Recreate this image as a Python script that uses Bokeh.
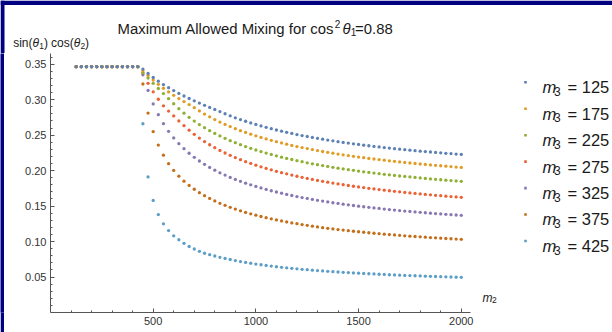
from bokeh.plotting import figure
from bokeh.models import Range1d, FixedTicker, PrintfTickFormatter
from bokeh.layouts import row, column
from bokeh.embed import file_html
from bokeh.resources import INLINE
from bokeh.core.properties import value

# ---------------- data ----------------
m2 = [125, 150, 175, 200, 225, 250, 275, 300, 325, 350, 375, 400, 425,
      450, 475, 500, 525, 550, 575, 600, 625, 650, 675,
      700, 725, 750, 775, 800, 825, 850, 875, 900, 925,
      950, 975, 1000, 1025, 1050, 1075, 1100, 1125, 1150, 1175,
      1200, 1225, 1250, 1275, 1300, 1325, 1350, 1375, 1400, 1425,
      1450, 1475, 1500, 1525, 1550, 1575, 1600, 1625, 1650, 1675,
      1700, 1725, 1750, 1775, 1800, 1825, 1850, 1875, 1900, 1925,
      1950, 1975, 2000]

flat = [0.3464, 0.3464, 0.3464, 0.3464, 0.3464, 0.3464, 0.3464,
        0.3464, 0.3464, 0.3464, 0.3464, 0.3464, 0.3464]

m3_values = [125, 175, 225, 275, 325, 375, 425]

mix_125 = flat + [
    0.3430, 0.3368, 0.3312, 0.3260, 0.3212, 0.3168, 0.3127, 0.3088, 0.3051, 0.3016,
    0.2983, 0.2951, 0.2920, 0.2890, 0.2861, 0.2831, 0.2801, 0.2772, 0.2744, 0.2719,
    0.2695, 0.2671, 0.2650, 0.2629, 0.2609, 0.2590, 0.2572, 0.2555, 0.2539, 0.2523,
    0.2508, 0.2494, 0.2480, 0.2467, 0.2454, 0.2442, 0.2430, 0.2419, 0.2408, 0.2397,
    0.2387, 0.2377, 0.2368, 0.2358, 0.2350, 0.2341, 0.2333, 0.2325, 0.2317, 0.2309,
    0.2302, 0.2295, 0.2288, 0.2281, 0.2274, 0.2268, 0.2262, 0.2256, 0.2250, 0.2244,
    0.2239, 0.2233, 0.2228]

mix_175 = flat + [
    0.3410, 0.3340, 0.3275, 0.3215, 0.3160, 0.3108, 0.3060, 0.3015, 0.2972, 0.2930,
    0.2886, 0.2841, 0.2797, 0.2757, 0.2719, 0.2684, 0.2651, 0.2620, 0.2591, 0.2563,
    0.2538, 0.2513, 0.2490, 0.2467, 0.2446, 0.2426, 0.2407, 0.2389, 0.2372, 0.2355,
    0.2339, 0.2324, 0.2310, 0.2296, 0.2282, 0.2269, 0.2257, 0.2245, 0.2233, 0.2222,
    0.2212, 0.2201, 0.2191, 0.2182, 0.2172, 0.2163, 0.2155, 0.2146, 0.2138, 0.2130,
    0.2122, 0.2115, 0.2107, 0.2100, 0.2093, 0.2087, 0.2080, 0.2074, 0.2068, 0.2062,
    0.2056, 0.2050, 0.2045]

mix_225 = flat + [
    0.3380, 0.3305, 0.3230, 0.3157, 0.3085, 0.3013, 0.2942, 0.2872, 0.2809, 0.2751,
    0.2698, 0.2649, 0.2604, 0.2562, 0.2524, 0.2488, 0.2454, 0.2422, 0.2393, 0.2365,
    0.2338, 0.2314, 0.2290, 0.2268, 0.2247, 0.2227, 0.2208, 0.2189, 0.2172, 0.2156,
    0.2140, 0.2125, 0.2110, 0.2096, 0.2083, 0.2070, 0.2058, 0.2046, 0.2034, 0.2023,
    0.2013, 0.2003, 0.1993, 0.1983, 0.1974, 0.1965, 0.1956, 0.1948, 0.1940, 0.1932,
    0.1924, 0.1917, 0.1910, 0.1903, 0.1896, 0.1890, 0.1883, 0.1877, 0.1871, 0.1865,
    0.1859, 0.1854, 0.1848]

mix_275 = flat + [
    0.3375, 0.3230, 0.3110, 0.3005, 0.2913, 0.2838, 0.2770, 0.2700, 0.2633, 0.2569,
    0.2511, 0.2458, 0.2409, 0.2364, 0.2323, 0.2284, 0.2248, 0.2215, 0.2183, 0.2154,
    0.2126, 0.2101, 0.2076, 0.2053, 0.2031, 0.2010, 0.1990, 0.1971, 0.1954, 0.1936,
    0.1920, 0.1905, 0.1890, 0.1875, 0.1861, 0.1848, 0.1836, 0.1824, 0.1812, 0.1801,
    0.1790, 0.1779, 0.1769, 0.1760, 0.1750, 0.1741, 0.1732, 0.1724, 0.1716, 0.1708,
    0.1700, 0.1692, 0.1685, 0.1678, 0.1671, 0.1664, 0.1658, 0.1652, 0.1646, 0.1640,
    0.1634, 0.1628, 0.1623]

mix_325 = flat + [
    0.3350, 0.3130, 0.2940, 0.2788, 0.2661, 0.2553, 0.2460, 0.2379, 0.2308, 0.2244,
    0.2187, 0.2135, 0.2088, 0.2045, 0.2006, 0.1969, 0.1936, 0.1904, 0.1875, 0.1848,
    0.1823, 0.1799, 0.1776, 0.1755, 0.1735, 0.1716, 0.1698, 0.1681, 0.1664, 0.1649,
    0.1634, 0.1620, 0.1607, 0.1594, 0.1581, 0.1570, 0.1558, 0.1547, 0.1537, 0.1527,
    0.1517, 0.1508, 0.1499, 0.1490, 0.1482, 0.1474, 0.1466, 0.1458, 0.1451, 0.1444,
    0.1437, 0.1430, 0.1424, 0.1418, 0.1412, 0.1406, 0.1400, 0.1394, 0.1389, 0.1384,
    0.1379, 0.1374, 0.1369]

mix_375 = flat + [
    0.3220, 0.2810, 0.2550, 0.2360, 0.2217, 0.2097, 0.2002, 0.1921, 0.1851, 0.1791,
    0.1737, 0.1689, 0.1646, 0.1607, 0.1572, 0.1539, 0.1510, 0.1482, 0.1457, 0.1433,
    0.1411, 0.1390, 0.1371, 0.1353, 0.1336, 0.1320, 0.1304, 0.1290, 0.1276, 0.1263,
    0.1251, 0.1239, 0.1228, 0.1216, 0.1206, 0.1196, 0.1187, 0.1178, 0.1169, 0.1161,
    0.1153, 0.1145, 0.1138, 0.1131, 0.1124, 0.1117, 0.1111, 0.1104, 0.1098, 0.1093,
    0.1087, 0.1081, 0.1076, 0.1071, 0.1066, 0.1061, 0.1056, 0.1052, 0.1047, 0.1043,
    0.1039, 0.1035, 0.1031]

mix_425 = flat + [
    0.2660, 0.1910, 0.1580, 0.1380, 0.1250, 0.1155, 0.1080, 0.1025, 0.0975, 0.0930,
    0.0895, 0.0862, 0.0835, 0.0815, 0.0796, 0.0778, 0.0762, 0.0747, 0.0732, 0.0718,
    0.0706, 0.0694, 0.0683, 0.0673, 0.0663, 0.0654, 0.0645, 0.0637, 0.0630, 0.0623,
    0.0616, 0.0609, 0.0603, 0.0597, 0.0591, 0.0586, 0.0581, 0.0576, 0.0571, 0.0566,
    0.0562, 0.0558, 0.0554, 0.0550, 0.0546, 0.0543, 0.0539, 0.0536, 0.0532, 0.0529,
    0.0526, 0.0523, 0.0521, 0.0518, 0.0515, 0.0512, 0.0510, 0.0507, 0.0505, 0.0503,
    0.0500, 0.0498, 0.0496]

x_ticks = [500, 1000, 1500, 2000]
x_minor = [100, 200, 300, 400, 600, 700, 800, 900, 1100, 1200, 1300, 1400,
           1600, 1700, 1800, 1900, 2000]
y_ticks = [0.05, 0.10, 0.15, 0.20, 0.25, 0.30, 0.35]
y_minor = [0.01, 0.02, 0.03, 0.04, 0.06, 0.07, 0.08, 0.09, 0.11, 0.12, 0.13, 0.14,
           0.16, 0.17, 0.18, 0.19, 0.21, 0.22, 0.23, 0.24, 0.26, 0.27, 0.28, 0.29,
           0.31, 0.32, 0.33, 0.34, 0.36]

series = [mix_125, mix_175, mix_225, mix_275, mix_325, mix_375, mix_425]
colors = ["#5E81B5", "#E19C24", "#8FB032", "#EB6235", "#8778B3", "#C56E1A", "#5D9EC7"]

# ---------------- styling / layout constants ----------------
FONT = "Liberation Sans"
TXT = "#1a1a1a"
AX = "#555555"
NAVY = "#000080"

PAGE_W, PAGE_H = 612, 332
TOP_H = 53          # band holding the title and the y-axis label
STRIP_W = 4         # navy frame line on the left
MAIN_W = 478 - STRIP_W
FRAME_L, FRAME_W, FRAME_H = 50 - STRIP_W, 420, 259
LOW_H = PAGE_H - TOP_H
LEG_W = PAGE_W - STRIP_W - MAIN_W

X0, X1 = 0, 2045
Y0, Y1 = 0, 0.365


def bare(width, height, xr, yr, fill="white"):
    f = figure(width=width, height=height, x_range=xr, y_range=yr,
               output_backend="svg", toolbar_location=None, title_location=None,
               x_axis_type=None, y_axis_type=None,
               min_border_left=0, min_border_right=0, min_border_top=0, min_border_bottom=0)
    f.outline_line_color = None
    f.grid.visible = False
    f.background_fill_color = fill
    f.border_fill_color = fill
    return f


def put(fig, px, py, text, size, style="normal"):
    fig.text(x=[px], y=[py], text=[text], text_font=value(FONT), text_font_size=size,
             text_font_style=style, text_color=TXT,
             text_baseline="alphabetic", text_align="left")


# ---- top band: title + y-axis label (page coordinates) ----
top = bare(PAGE_W, TOP_H, Range1d(0, PAGE_W), Range1d(TOP_H, 0))
top.quad(left=[0], right=[PAGE_W], top=[0], bottom=[4.5], fill_color=NAVY, line_color=None)
top.quad(left=[0], right=[STRIP_W], top=[0], bottom=[TOP_H], fill_color=NAVY, line_color=None)

put(top, 117, 28.7, "Maximum Allowed Mixing for cos", "14.9px")
put(top, 334.3, 23.3, "2", "10px")
put(top, 342.0, 28.7, "θ", "14.9px", "italic")
put(top, 350.3, 31.5, "1", "10px")
put(top, 354.6, 28.7, "=0.88", "14.9px")

put(top, 12.7, 42.5, "sin(", "12px")
put(top, 32.0, 42.5, "θ", "12px", "italic")
put(top, 38.7, 45.0, "1", "8.5px")
put(top, 43.4, 42.5, ")", "12px")
put(top, 50.5, 42.5, "cos(", "12px")
put(top, 73.2, 42.5, "θ", "12px", "italic")
put(top, 79.9, 45.0, "2", "8.5px")
put(top, 84.6, 42.5, ")", "12px")

# ---- navy strip on the left ----
strip = bare(STRIP_W, LOW_H, Range1d(0, 1), Range1d(0, 1), fill=NAVY)

# ---- main plot ----
p = figure(width=MAIN_W, height=LOW_H, x_range=Range1d(X0, X1), y_range=Range1d(Y0, Y1),
           output_backend="svg", toolbar_location=None, title_location=None,
           min_border_left=FRAME_L, min_border_right=MAIN_W - FRAME_L - FRAME_W,
           min_border_top=0, min_border_bottom=LOW_H - FRAME_H)
p.outline_line_color = None
p.grid.visible = False
p.background_fill_color = "white"
p.border_fill_color = "white"

for ax in (p.xaxis[0], p.yaxis[0]):
    ax.axis_line_color = AX
    ax.axis_line_width = 1
    ax.major_tick_line_color = AX
    ax.minor_tick_line_color = AX
    ax.major_tick_in = 4
    ax.major_tick_out = 0
    ax.minor_tick_in = 2
    ax.minor_tick_out = 0
    ax.major_label_text_font = FONT
    ax.major_label_text_font_size = "11px"
    ax.major_label_text_color = "#333333"
    ax.major_label_standoff = 4

p.xaxis.ticker = FixedTicker(ticks=x_ticks, minor_ticks=x_minor)
p.xaxis.formatter = PrintfTickFormatter(format="%d")
p.yaxis.ticker = FixedTicker(ticks=y_ticks, minor_ticks=y_minor)
p.yaxis.formatter = PrintfTickFormatter(format="%.2f")

for vals, col in reversed(list(zip(series, colors))):
    p.scatter(x=m2, y=vals, marker="circle", size=3.3, fill_color=col, line_color=None)

# ---- legend + x-axis label panel (page coordinates) ----
x_left = STRIP_W + MAIN_W
leg = bare(LEG_W, LOW_H, Range1d(x_left, PAGE_W), Range1d(PAGE_H, TOP_H))

put(leg, 482, 316, "m", "12px", "italic")
put(leg, 491.5, 319, "2", "8.5px")

base = [89.3 + 28.5 * i for i in range(len(m3_values))]
n = len(base)
leg.scatter(x=[525] * n, y=[b - 5.3 for b in base], marker="square", size=2.6,
            fill_color=colors, line_color=None)
leg.text(x=[542] * n, y=base, text=["m"] * n,
         text_font=value(FONT), text_font_size="16.5px", text_font_style="italic",
         text_color=TXT, text_baseline="alphabetic", text_align="left")
leg.text(x=[553.5] * n, y=[b + 4.5 for b in base], text=["3"] * n,
         text_font=value(FONT), text_font_size="12px",
         text_color=TXT, text_baseline="alphabetic", text_align="left")
leg.text(x=[567.0] * n, y=base, text=["= %d" % m for m in m3_values],
         text_font=value(FONT), text_font_size="16.5px",
         text_color=TXT, text_baseline="alphabetic", text_align="left")

layout = column(top, row(strip, p, leg, spacing=0), spacing=0)
open("out.html", "w").write(file_html(layout, INLINE))
